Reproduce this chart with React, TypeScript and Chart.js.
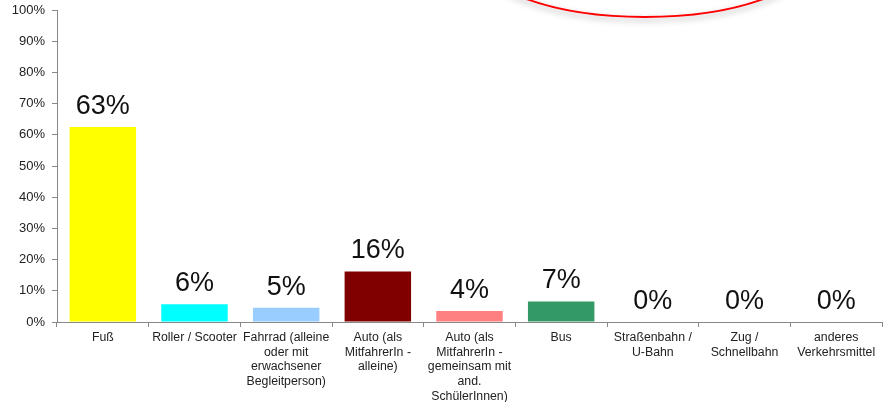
import React, { useEffect, useRef } from "react";
import { Chart, registerables } from "chart.js";

Chart.register(...registerables);

const categories: string[][] = [
  ["Fuß"],
  ["Roller / Scooter"],
  ["Fahrrad (alleine", "oder mit", "erwachsener", "Begleitperson)"],
  ["Auto (als", "MitfahrerIn -", "alleine)"],
  ["Auto (als", "MitfahrerIn -", "gemeinsam mit", "and.", "SchülerInnen)"],
  ["Bus"],
  ["Straßenbahn /", "U-Bahn"],
  ["Zug /", "Schnellbahn"],
  ["anderes", "Verkehrsmittel"],
];

const shares: number[] = [62.5, 5.7, 4.6, 16.2, 3.5, 6.6, 0, 0, 0];

const barColors: string[] = [
  "#FFFF00",
  "#00FFFF",
  "#99CCFF",
  "#800000",
  "#FF8080",
  "#339966",
  "#000080",
  "#000080",
  "#000080",
];

const yTicks: number[] = [0, 10, 20, 30, 40, 50, 60, 70, 80, 90, 100];

const FONT = "'Liberation Sans', Arial, sans-serif";

const valueLabelPlugin = {
  id: "valueLabels",
  afterDatasetsDraw(chart: any) {
    const ctx = chart.ctx;
    const meta = chart.getDatasetMeta(0);
    ctx.save();
    ctx.font = `27px ${FONT}`;
    ctx.fillStyle = "#111";
    ctx.textAlign = "center";
    ctx.textBaseline = "alphabetic";
    meta.data.forEach((bar: any, i: number) => {
      const v = chart.data.datasets[0].data[i] as number;
      ctx.fillText(`${Math.round(v)}%`, bar.x, bar.y - 13);
    });
    ctx.restore();
  },
};

const ellipsePlugin = {
  id: "redEllipse",
  afterDraw(chart: any) {
    const ctx = chart.ctx;
    ctx.save();
    ctx.shadowColor = "rgba(0,0,0,0.35)";
    ctx.shadowBlur = 6;
    ctx.shadowOffsetY = 3;
    ctx.strokeStyle = "#FF0000";
    ctx.lineWidth = 2;
    ctx.beginPath();
    ctx.ellipse(645, -43, 166, 60, 0, 0, Math.PI * 2);
    ctx.stroke();
    ctx.restore();
  },
};

export default function App() {
  const ref = useRef<HTMLCanvasElement | null>(null);

  useEffect(() => {
    document.body.style.margin = "0";
    if (!ref.current) return;
    const chart = new Chart(ref.current, {
      type: "bar",
      data: {
        labels: categories as any,
        datasets: [
          {
            data: shares,
            backgroundColor: barColors,
            borderWidth: 0,
            barPercentage: 0.725,
            categoryPercentage: 1,
          },
        ],
      },
      options: {
        animation: false,
        responsive: false,
        maintainAspectRatio: false,
        layout: { padding: { top: 10, right: 1, bottom: 0, left: 0 } },
        plugins: {
          legend: { display: false },
          tooltip: { enabled: false },
        },
        scales: {
          x: {
            grid: {
              display: true,
              drawOnChartArea: false,
              drawTicks: true,
              tickLength: 5,
              color: "#888",
              offset: true,
            },
            border: { display: true, color: "#888", width: 1 },
            ticks: {
              autoSkip: false,
              maxRotation: 0,
              minRotation: 0,
              padding: 3,
              color: "#222",
              font: { family: FONT, size: 12.3, lineHeight: 1.2 },
            },
            afterFit(scale: any) {
              scale.height = 80;
              scale.paddingLeft = 0;
              scale.paddingRight = 0;
            },
          },
          y: {
            min: 0,
            max: 100,
            afterBuildTicks(scale: any) {
              scale.ticks = yTicks.map((v) => ({ value: v }));
            },
            grid: {
              display: true,
              drawOnChartArea: false,
              drawTicks: true,
              tickLength: 5,
              color: "#888",
            },
            border: { display: true, color: "#888", width: 1 },
            ticks: {
              padding: 7,
              color: "#222",
              font: { family: FONT, size: 13 },
              callback: (v: any) => `${v}%`,
            },
            afterFit(scale: any) {
              scale.width = 57;
              scale.paddingTop = 0;
              scale.paddingBottom = 0;
            },
          },
        },
      },
      plugins: [valueLabelPlugin, ellipsePlugin],
    });
    return () => chart.destroy();
  }, []);

  return (
    <div style={{ width: 883, height: 402 }}>
      <canvas ref={ref} width={883} height={402} style={{ display: "block" }} />
    </div>
  );
}
